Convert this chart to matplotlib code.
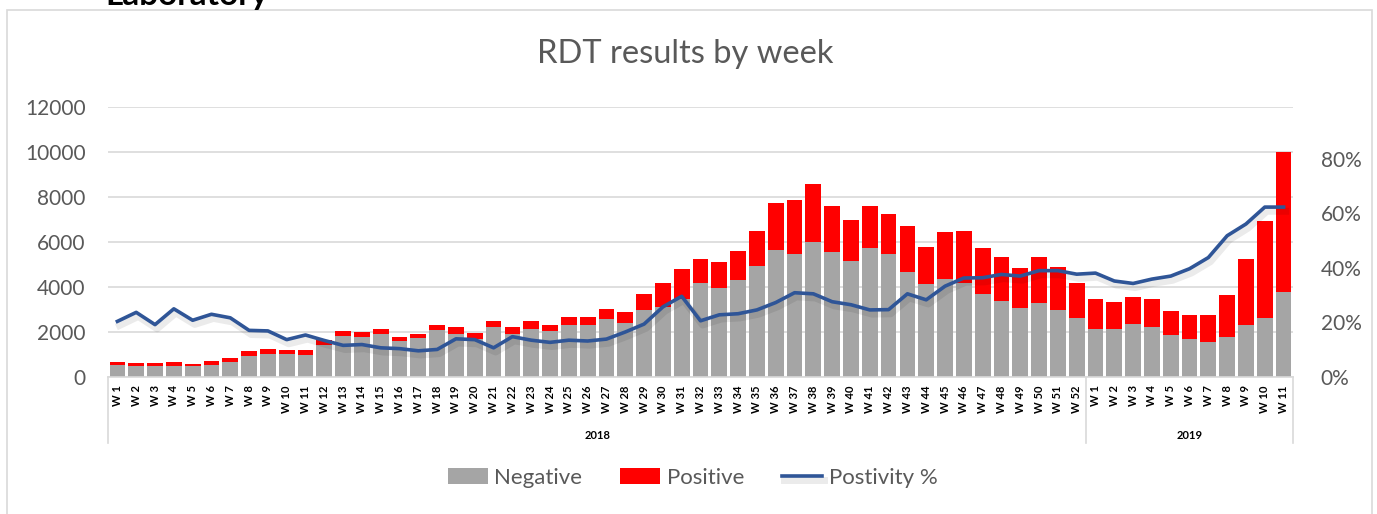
import matplotlib.pyplot as plt
import matplotlib.patheffects as pe
from matplotlib.patches import Rectangle
from matplotlib.lines import Line2D
import numpy as np

# week labels: 52 weeks of 2018, 11 weeks of 2019
weeks_2018 = [f"W {i}" for i in range(1, 53)]
weeks_2019 = [f"W {i}" for i in range(1, 12)]
weeks = weeks_2018 + weeks_2019

# total tests (negative + positive) per week
totals = [
    667, 622, 607, 652, 593, 711, 830, 1141, 1230, 1185,
    1185, 1644, 2030, 2015, 2119, 1778, 1911, 2311, 2207, 1956,
    2489, 2222, 2489, 2326, 2667, 2667, 3022, 2889, 3704, 4178,
    4800, 5244, 5111, 5615, 6504, 7719, 7852, 8578, 7585, 6978,
    7585, 7259, 6711, 5793, 6459, 6504, 5719, 5333, 4844, 5348,
    4889, 4163,
    3467, 3319, 3556, 3452, 2948, 2770, 2741, 3644, 5244, 6948, 10000,
]
negative = [
    520, 489, 489, 489, 474, 548, 652, 933, 1022, 1037,
    993, 1437, 1807, 1778, 1896, 1600, 1719, 2074, 1930, 1689,
    2222, 1911, 2133, 2030, 2311, 2326, 2593, 2400, 2993, 3126,
    3452, 4178, 3956, 4311, 4919, 5644, 5475, 5985, 5541, 5156,
    5748, 5467, 4681, 4148, 4341, 4163, 3674, 3363, 3067, 3274,
    2993, 2607,
    2155, 2133, 2341, 2222, 1852, 1674, 1541, 1763, 2311, 2637, 3778,
]
positive = [t - n for t, n in zip(totals, negative)]

positivity = [
    0.204, 0.237, 0.192, 0.250, 0.208, 0.230, 0.217, 0.171, 0.169, 0.137,
    0.154, 0.134, 0.116, 0.119, 0.107, 0.104, 0.096, 0.101, 0.140, 0.137,
    0.107, 0.148, 0.135, 0.127, 0.135, 0.132, 0.139, 0.165, 0.194, 0.257,
    0.296, 0.206, 0.228, 0.232, 0.246, 0.273, 0.309, 0.305, 0.276, 0.265,
    0.246, 0.247, 0.305, 0.283, 0.333, 0.363, 0.364, 0.376, 0.370, 0.390,
    0.390, 0.377,
    0.381, 0.352, 0.343, 0.359, 0.370, 0.397, 0.438, 0.518, 0.561, 0.623, 0.623,
]

years = ["2018", "2019"]

GRAY_TXT = "#595959"
plt.rcParams['font.family'] = ['Lato', 'DejaVu Sans']

fig = plt.figure(figsize=(13.77, 5.14), dpi=100)
ax = fig.add_axes([108 / 1377, 1 - 377 / 514, (1293 - 108) / 1377, 270 / 514])

x = np.arange(len(weeks))
ax.bar(x, negative, 0.84, color="#A5A5A5", label="Negative", zorder=2)
ax.bar(x, positive, 0.84, bottom=negative, color="#FF0000", label="Positive", zorder=2)

ax.set_xlim(-0.5, len(weeks) - 0.5)
ax.set_ylim(0, 12000)
ax.set_yticks(range(0, 12001, 2000))
ax.grid(axis='y', color="#D9D9D9", linewidth=1.2, zorder=0)
ax.tick_params(axis='y', length=0, labelsize=15, labelcolor=GRAY_TXT, pad=16)
ax.set_xticks(x)
ax.set_xticklabels(weeks, rotation=90, fontsize=8, fontweight='bold')
ax.tick_params(axis='x', length=0, pad=6)
for s in ['top', 'right', 'left']:
    ax.spines[s].set_visible(False)
ax.spines['bottom'].set_color("#D9D9D9")
ax.spines['bottom'].set_linewidth(1.2)

ax2 = ax.twinx()
ax2.plot(x, positivity, color="#2F5597", linewidth=2.6, label="Postivity %", zorder=3,
         path_effects=[pe.SimpleLineShadow(offset=(1.5, -3), shadow_color='black', alpha=0.08, linewidth=5),
                       pe.Normal()])
ax2.set_ylim(0, 0.99)
ax2.set_yticks([0, 0.2, 0.4, 0.6, 0.8])
ax2.set_yticklabels(["0%", "20%", "40%", "60%", "80%"])
ax2.tick_params(axis='y', length=0, labelsize=15, labelcolor=GRAY_TXT, pad=20)
for s in ax2.spines.values():
    s.set_visible(False)

# category separators and year labels
trans = ax.get_xaxis_transform()
for xs in [-0.5, 51.5, len(weeks) - 0.5]:
    ax.add_line(Line2D([xs, xs], [0, -0.245], transform=trans, color="#D9D9D9",
                       linewidth=1.2, clip_on=False))
ax.text(25.5, -0.215, years[0], transform=trans, ha='center', va='center',
        fontsize=8, fontweight='bold')
ax.text(57, -0.215, years[1], transform=trans, ha='center', va='center',
        fontsize=8, fontweight='bold')

fig.text(0.498, 1 - 54 / 514, "RDT results by week", ha='center', va='center',
         fontsize=23.5, color=GRAY_TXT)
fig.text(105 / 1377, 1 - 5 / 514, "Laboratory", ha='left', va='baseline',
         fontsize=24, fontweight='bold')

# outer chart border
fig.patches.append(Rectangle((7 / 1377, -0.01), (1372 - 7) / 1377, 1 - 10 / 514 + 0.01,
                             transform=fig.transFigure, fill=False, edgecolor="#D9D9D9",
                             linewidth=1.2))

handles = ax.get_legend_handles_labels()[0] + ax2.get_legend_handles_labels()[0]
labels = ["Negative", "Positive", "Postivity %"]
fig.legend(handles, labels, loc='center', bbox_to_anchor=(0.503, 1 - 478 / 514), ncol=3,
           frameon=False, fontsize=16, labelcolor=GRAY_TXT, handlelength=1.8,
           handleheight=0.7, columnspacing=1.7, handletextpad=0.3)

fig.savefig("out.png", dpi=100)
